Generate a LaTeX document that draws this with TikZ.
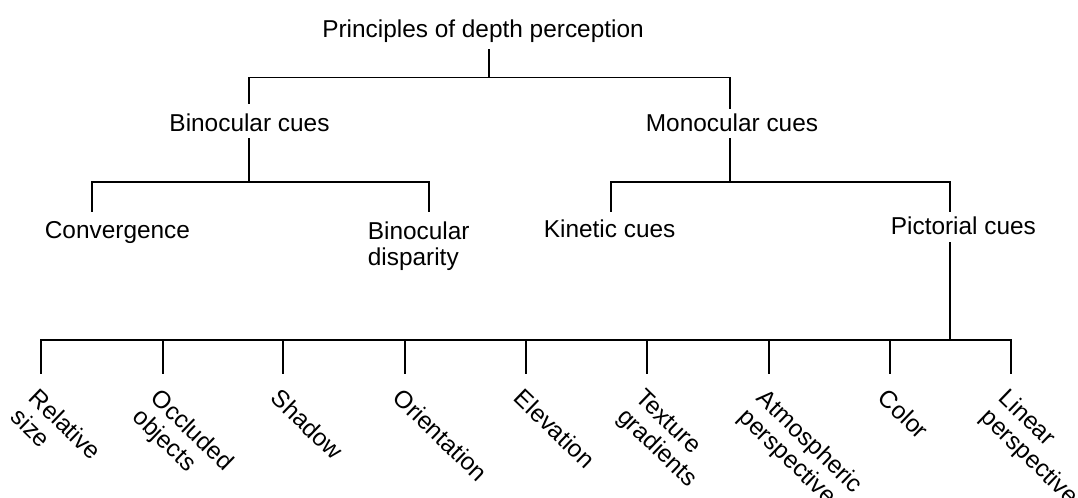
\documentclass[tikz,border=0pt]{standalone}
\usepackage{fontspec}
\setmainfont{Liberation Sans}
\begin{document}
\begin{tikzpicture}[x=0.75pt,y=-0.75pt,line width=1.3pt,
  lbl/.style={font=\fontsize{18.3}{19.5}\selectfont,inner sep=0pt,anchor=base},
  leaflbl/.style={font=\fontsize{18.3}{19.8}\selectfont,inner sep=0pt,anchor=north west,rotate=-44,align=left},
  link/.style={draw=black,line cap=rect}]
\useasboundingbox (0,0) rectangle (1078,498);
% text nodes
\node[lbl] (root) at (483,37.5) {Principles of depth perception};
\node[lbl] (bin) at (249.5,132) {Binocular cues};
\node[lbl] (mono) at (732,132) {Monocular cues};
\node[lbl,anchor=base west] (conv) at (44,238.6) {Convergence};
\node[lbl,anchor=north west,align=left] (bdisp) at (367,221.4) {Binocular\\disparity};
\node[lbl,anchor=base west] (kin) at (543,237.6) {Kinetic cues};
\node[lbl,anchor=base west] (pict) at (890,235) {Pictorial cues};
% junction coordinates
\coordinate (root-stem) at (489,50);
\coordinate (j0) at (489,77.5);
\coordinate (bin-top) at (249,103);
\coordinate (mono-top) at (730,108);
\coordinate (bin-stem) at (249,139);
\coordinate (mono-stem) at (730,139);
\coordinate (j1) at (249,182);
\coordinate (j2) at (730,182);
\coordinate (conv-top) at (92,211);
\coordinate (bdisp-top) at (429,211);
\coordinate (kin-top) at (611,211);
\coordinate (pict-top) at (950,211);
\coordinate (pict-stem) at (950,243);
\coordinate (j3) at (950,340);
% connectors
\draw[link] (root-stem) -- (j0);
\draw[link] (bin-top) -- (bin-top |- j0) -- (mono-top |- j0) -- (mono-top);
\draw[link] (bin-stem) -- (j1);
\draw[link] (conv-top) -- (conv-top |- j1) -- (bdisp-top |- j1) -- (bdisp-top);
\draw[link] (mono-stem) -- (j2);
\draw[link] (kin-top) -- (kin-top |- j2) -- (pict-top |- j2) -- (pict-top);
\draw[link] (pict-stem) -- (j3);
% leaves
\foreach \x/\t/\n in {41/{Relative\\size}/l1,163/{Occluded\\objects}/l2,283/{Shadow}/l3,405/{Orientation}/l4,526/{Elevation}/l5,647/{Texture\\gradients}/l6,769/{Atmospheric\\perspective}/l7,890/{Color}/l8,1011/{Linear\\perspective}/l9}{
  \coordinate (\n-top) at (\x,373);
  \node[leaflbl] (\n) at (\x-1,386) {\t};
  \draw[link] (\n-top) -- (\n-top |- j3);
}
\draw[link] (l1-top |- j3) -- (l9-top |- j3);
\end{tikzpicture}
\end{document}
